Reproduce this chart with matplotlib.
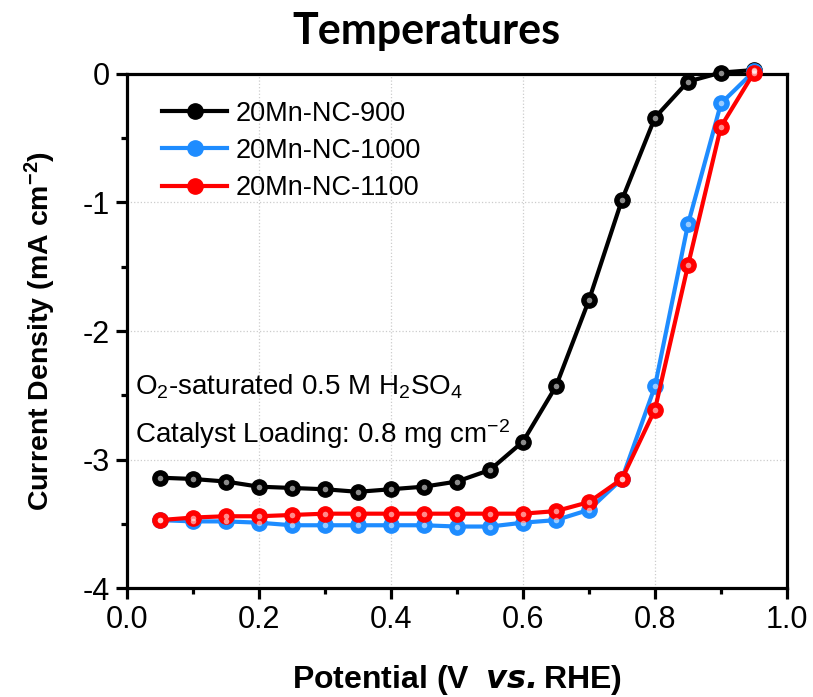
import matplotlib.pyplot as plt
import numpy as np

plt.rcParams['font.family'] = ['Liberation Sans', 'DejaVu Sans']
plt.rcParams['axes.unicode_minus'] = False
plt.rcParams['mathtext.fontset'] = 'custom'
plt.rcParams['mathtext.rm'] = 'Liberation Sans'
plt.rcParams['mathtext.it'] = 'Liberation Sans:italic'
plt.rcParams['mathtext.bf'] = 'Liberation Sans:bold'

potential = [0.05, 0.10, 0.15, 0.20, 0.25, 0.30, 0.35, 0.40, 0.45, 0.50,
             0.55, 0.60, 0.65, 0.70, 0.75, 0.80, 0.85, 0.90, 0.95]
nc900 = [-3.14, -3.15, -3.17, -3.21, -3.22, -3.23, -3.25, -3.23, -3.21, -3.17,
         -3.08, -2.86, -2.43, -1.76, -0.98, -0.34, -0.06, 0.01, 0.03]
nc1000 = [-3.47, -3.48, -3.48, -3.49, -3.51, -3.51, -3.51, -3.51, -3.51, -3.52,
          -3.52, -3.49, -3.47, -3.39, -3.15, -2.43, -1.17, -0.23, 0.02]
nc1100 = [-3.47, -3.45, -3.44, -3.44, -3.43, -3.42, -3.42, -3.42, -3.42, -3.42,
          -3.42, -3.42, -3.40, -3.33, -3.15, -2.61, -1.49, -0.41, 0.01]

series = [("20Mn-NC-900", nc900, "#000000"),
          ("20Mn-NC-1000", nc1000, "#1E8CFF"),
          ("20Mn-NC-1100", nc1100, "#FF0000")]

fig = plt.figure(figsize=(8.13, 6.97), dpi=100)
ax = fig.add_axes([0.156, 0.156, 0.812, 0.738])

for name, vals, col in series:
    ax.plot(potential, vals, '-o', color=col, lw=3, ms=11, mec=col,
            mfc=col, label=name, clip_on=False, zorder=3)
    # little highlight to mimic the shaded spheres
    ax.plot(potential, vals, 'o', color='white', ms=4, alpha=0.55,
            mec='none', clip_on=False, zorder=4)

ax.set_xlim(0, 1.0)
ax.set_ylim(-4, 0)
ax.set_xticks(np.arange(0, 1.01, 0.2))
ax.set_xticks(np.arange(0.1, 1.0, 0.2), minor=True)
ax.set_yticks([-4, -3, -2, -1, 0])
ax.set_yticks([-3.5, -2.5, -1.5, -0.5], minor=True)
ax.set_yticklabels(['-4', '-3', '-2', '-1', '0'])
ax.xaxis.set_major_formatter(plt.FormatStrFormatter('%.1f'))

ax.grid(True, which='major', color='#cccccc', ls=':', lw=0.9)
ax.set_axisbelow(True)

for sp in ax.spines.values():
    sp.set_linewidth(2.3)
ax.tick_params(which='major', direction='out', length=8, width=2.3,
               labelsize=22, pad=4)
ax.tick_params(which='minor', direction='out', length=4, width=2.3)

ax.set_xlabel(r'Potential (V  $\mathbfit{vs.}$RHE)', fontsize=23,
              fontweight='bold', labelpad=20)
ax.set_ylabel(r'Current Density (mA cm$^{\mathbf{-2}}$)', fontsize=20.5,
              fontweight='bold', labelpad=18)
fig.text(0.524, 0.955, 'Temperatures', fontsize=31, fontweight='bold',
         family=['Lato', 'Liberation Sans'], ha='center', va='center')

ax.text(0.012, -2.43, r'O$_2$-saturated 0.5 M H$_2$SO$_4$', fontsize=20,
        va='center', ha='left')
ax.text(0.012, -2.8, r'Catalyst Loading: 0.8 mg cm$^{-2}$', fontsize=20,
        va='center', ha='left')

ax.legend(loc='upper left', bbox_to_anchor=(0.025, 0.985), frameon=False,
          fontsize=19.5, handlelength=2.4, handletextpad=0.3,
          labelspacing=0.42, borderpad=0.2)

fig.savefig('out.png', dpi=100)
